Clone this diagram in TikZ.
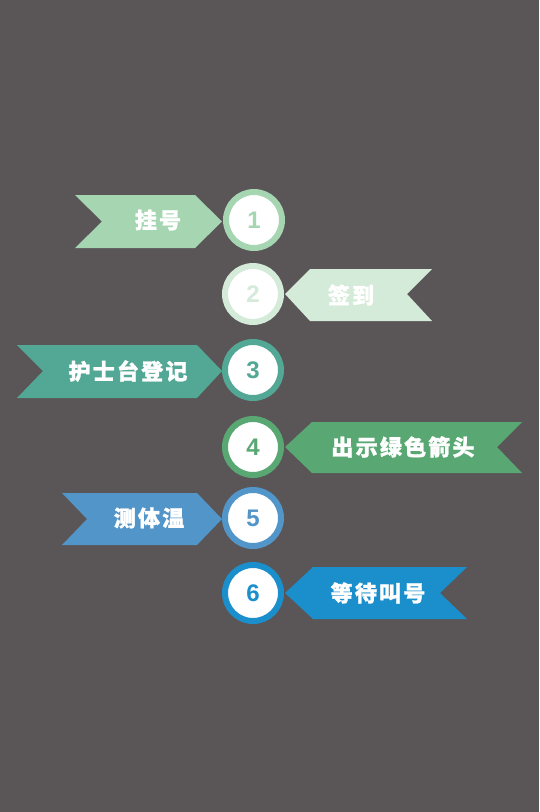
\documentclass[tikz,border=0pt]{standalone}
\usepackage{fontspec}
\setmainfont{Liberation Sans}
\newfontfamily\cjk{Noto Sans CJK SC}[LetterSpace=10,BoldFeatures={FakeBold=1.2}]
\definecolor{bg}{HTML}{5A5657}
\definecolor{cA}{HTML}{A5D5B1}
\definecolor{cB}{HTML}{D5EBD9}
\definecolor{cC}{HTML}{52A894}
\definecolor{cD}{HTML}{59A873}
\definecolor{cE}{HTML}{5295C9}
\definecolor{cF}{HTML}{1A8FCC}
\tikzset{
  ring/.style={circle, draw=#1, line width=6pt, fill=white, minimum size=56pt, inner sep=0pt,
    text=#1, font=\fontsize{24}{24}\selectfont\bfseries},
  lab/.style={text=white, font=\cjk\fontsize{22}{22}\selectfont\bfseries, inner sep=0pt}
}
\begin{document}
\begin{tikzpicture}[x=1pt,y=-1pt]
\fill[bg] (0,0) rectangle (539,812);
\useasboundingbox (0,0) rectangle (539,812);
% ribbons pointing right
\fill[cA] (75,195) -- (195,195) -- (222,221.5) -- (195,248) -- (75,248) -- (102,221.5) -- cycle;
\fill[cC] (17,345) -- (197,345) -- (222,371) -- (197,398) -- (17,398) -- (43,371) -- cycle;
\fill[cE] (62,493) -- (197,493) -- (222,519) -- (197,545) -- (62,545) -- (87,519) -- cycle;
% ribbons pointing left
\fill[cB] (285,294) -- (310,269) -- (432,269) -- (407,294) -- (432,321) -- (310,321) -- cycle;
\fill[cD] (285,447) -- (312,422) -- (522,422) -- (497,447) -- (522,473) -- (312,473) -- cycle;
\fill[cF] (285,593) -- (313,567) -- (467,567) -- (440,593) -- (467,619) -- (313,619) -- cycle;
% circles
\node[ring=cA] (n1) at (254,220) {1};
\node[ring=cB] (n2) at (253,294) {2};
\node[ring=cC] (n3) at (253,370) {3};
\node[ring=cD] (n4) at (253,447) {4};
\node[ring=cE] (n5) at (253,518) {5};
\node[ring=cF] (n6) at (253,593) {6};
% labels
\node[lab] (t1) at (158,220) {挂号};
\node[lab] (t2) at (351,295) {签到};
\node[lab] (t3) at (128,371) {护士台登记};
\node[lab] (t4) at (403,447) {出示绿色箭头};
\node[lab] (t5) at (149,518) {测体温};
\node[lab] (t6) at (378,593) {等待叫号};
\end{tikzpicture}
\end{document}
